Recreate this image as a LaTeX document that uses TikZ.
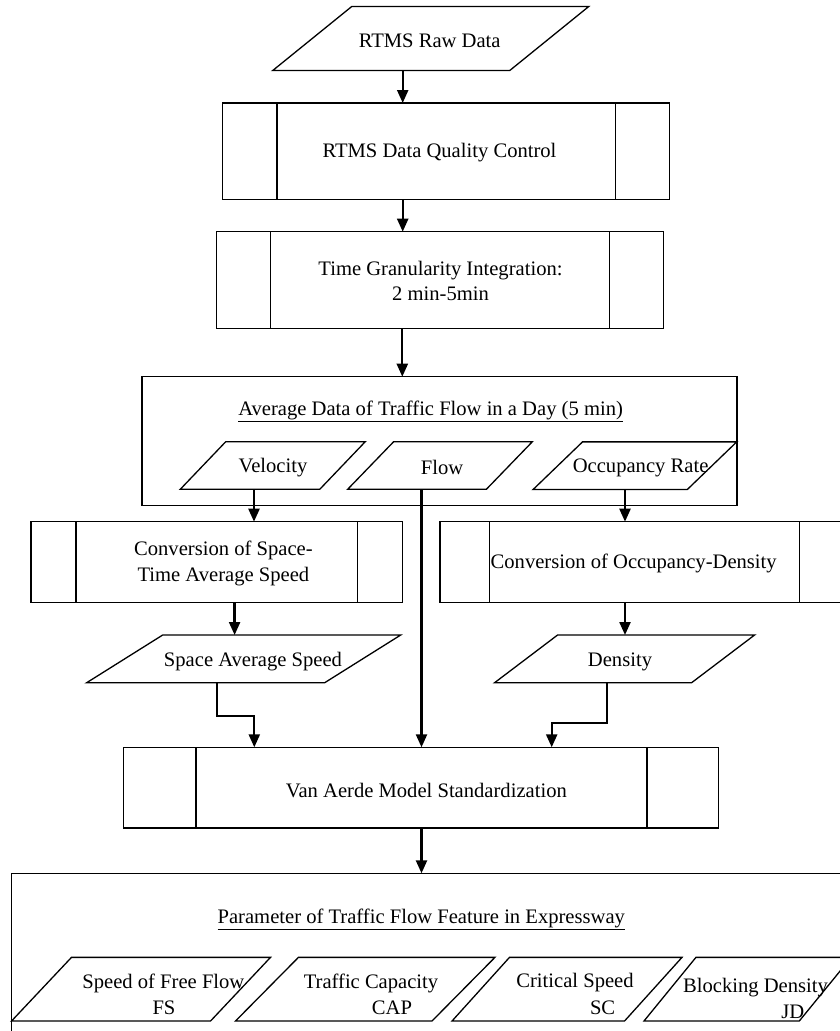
\documentclass[tikz,border=0pt]{standalone}
\usepackage{fontspec}
\setmainfont{Liberation Serif}
\usetikzlibrary{arrows.meta}
\newcommand\mypara[6]{%
  \node[pbox, minimum width={#4+#5}, minimum height={#6}] (#1) at (#2,#3) {};
  \draw[thin] ([xshift=#5pt]#1.north west) -- (#1.north east) -- ([xshift=-#5pt]#1.south east) -- (#1.south west) -- cycle;}
\newcommand\procbars[3]{%
  \draw[thin] ([xshift=#2pt]#1.north west) -- ([xshift=#2pt]#1.south west);
  \draw[thin] ([xshift=-#3pt]#1.north east) -- ([xshift=-#3pt]#1.south east);}
\begin{document}
\begin{tikzpicture}[x=1pt,y=-1pt,
  box/.style={draw, line width=1.3pt, inner sep=0pt, outer sep=0pt},
  pbox/.style={inner sep=0pt, outer sep=0pt},
  txt/.style={font=\fontsize{20.6}{25.5}\selectfont, inner sep=0pt, align=center},
  conn/.style={line width=2.3pt, line join=miter, -{Triangle[length=13pt,width=11pt]}},
  thin/.style={line width=1.3pt, line join=miter}
]
\useasboundingbox (0,0) rectangle (840,1031);

% ---- top input
\mypara{raw}{430.75}{38.5}{237}{79}{64}
\node[txt] (traw) at (429.7,41) {RTMS Raw Data};

% ---- quality control
\node[box, minimum width=446.6, minimum height=96.3] (qc) at (446,151.15) {};
\procbars{qc}{54.3}{54}
\node[txt] (tqc) at (439.5,152.5) {RTMS Data Quality Control};

% ---- time granularity
\node[box, minimum width=446.6, minimum height=96.6] (tg) at (440,280) {};
\procbars{tg}{54}{54}
\node[txt] (ttg) at (440.5,281) {Time Granularity Integration:\\2 min-5min};

% ---- average data
\node[box, minimum width=595, minimum height=129] (avg) at (439.5,441.2) {};
\node[txt] (tavg) at (430.6,411) {\underline{Average Data of Traffic Flow in a Day (5 min)}};
\mypara{vel}{272.75}{465.5}{139.5}{45.5}{47.6}
\node[txt] (tvel) at (273,468) {Velocity};
\mypara{flow}{440}{465.5}{138.7}{46}{47.6}
\node[txt] (tflow) at (442,467.5) {Flow};
\mypara{occ}{634.9}{465.7}{154.2}{49.5}{47.7}
\node[txt] (tocc) at (640.6,468) {Occupancy Rate};

% ---- conversions
\node[box, minimum width=371.3, minimum height=81] (cv1) at (216.65,562.2) {};
\procbars{cv1}{45}{44.5}
\node[txt] (tcv1) at (223.4,563.5) {Conversion of Space-\\Time Average Speed};
\node[box, minimum width=409, minimum height=81] (cv2) at (644.5,562.2) {};
\procbars{cv2}{49.6}{49.8}
\node[txt] (tcv2) at (633.7,563) {Conversion of Occupancy-Density};

% ---- derived
\mypara{space}{243.7}{658.85}{238}{76}{47.7}
\node[txt] (tspace) at (253,662) {Space Average Speed};
\mypara{dens}{624.6}{658.85}{197}{63}{47.7}
\node[txt] (tdens) at (620,662) {Density};

% ---- Van Aerde
\node[box, minimum width=594.6, minimum height=80.7] (van) at (421,787.65) {};
\procbars{van}{72.3}{71.3}
\node[txt] (tvan) at (426.4,790.5) {Van Aerde Model Standardization};

% ---- parameters
\node[box, minimum width=838.2, minimum height=170] (param) at (430.9,958.3) {};
\node[txt] (tparam) at (421.3,919) {\underline{Parameter of Traffic Flow Feature in Expressway}};
\mypara{p1}{141}{989.2}{199}{60}{63.7}
\node[txt] (tp1a) at (163.4,983) {Speed of Free Flow};
\node[txt] (tp1b) at (164,1008) {FS};
\mypara{p2}{365.2}{989.2}{196.5}{63}{63.7}
\node[txt] (tp2a) at (371,983) {Traffic Capacity};
\node[txt] (tp2b) at (392,1008) {CAP};
\mypara{p3}{567}{989.2}{172.5}{57.5}{63.7}
\node[txt] (tp3a) at (575,983) {Critical Speed};
\node[txt] (tp3b) at (602.6,1008) {SC};
\mypara{p4}{747.6}{989.2}{155.3}{52}{63.7}
\node[txt] (tp4a) at (755.5,988) {Blocking Density};
\node[txt] (tp4b) at (792.7,1012) {JD};

% ---- connector columns
\coordinate (x1) at (402.7,0);
\coordinate (x2) at (402.3,0);
\coordinate (xv) at (254,0);
\coordinate (xf) at (421.5,0);
\coordinate (xo) at (625,0);
\coordinate (xs) at (234.6,0);
\coordinate (xd) at (625,0);
\coordinate (e1) at (216.7,716);
\coordinate (e2) at (254.3,716);
\coordinate (f1) at (607,722.7);
\coordinate (f2) at (551.7,722.7);

\draw[conn] (raw.south -| x1) -- (qc.north -| x1);
\draw[conn] (qc.south -| x1) -- (tg.north -| x1);
\draw[conn] (tg.south -| x2) -- (avg.north -| x2);
\draw[conn] (vel.south -| xv) -- (cv1.north -| xv);
\draw[conn] (flow.south -| xf) -- (van.north -| xf);
\draw[conn] (occ.south -| xo) -- (cv2.north -| xo);
\draw[conn] (cv1.south -| xs) -- (space.north -| xs);
\draw[conn] (cv2.south -| xd) -- (dens.north -| xd);
\draw[conn] (space.south -| e1) -- (e1) -- (e2) -- (van.north -| e2);
\draw[conn] (dens.south -| f1) -- (f1) -- (f2) -- (van.north -| f2);
\draw[conn] (van.south -| xf) -- (param.north -| xf);
\end{tikzpicture}
\end{document}
